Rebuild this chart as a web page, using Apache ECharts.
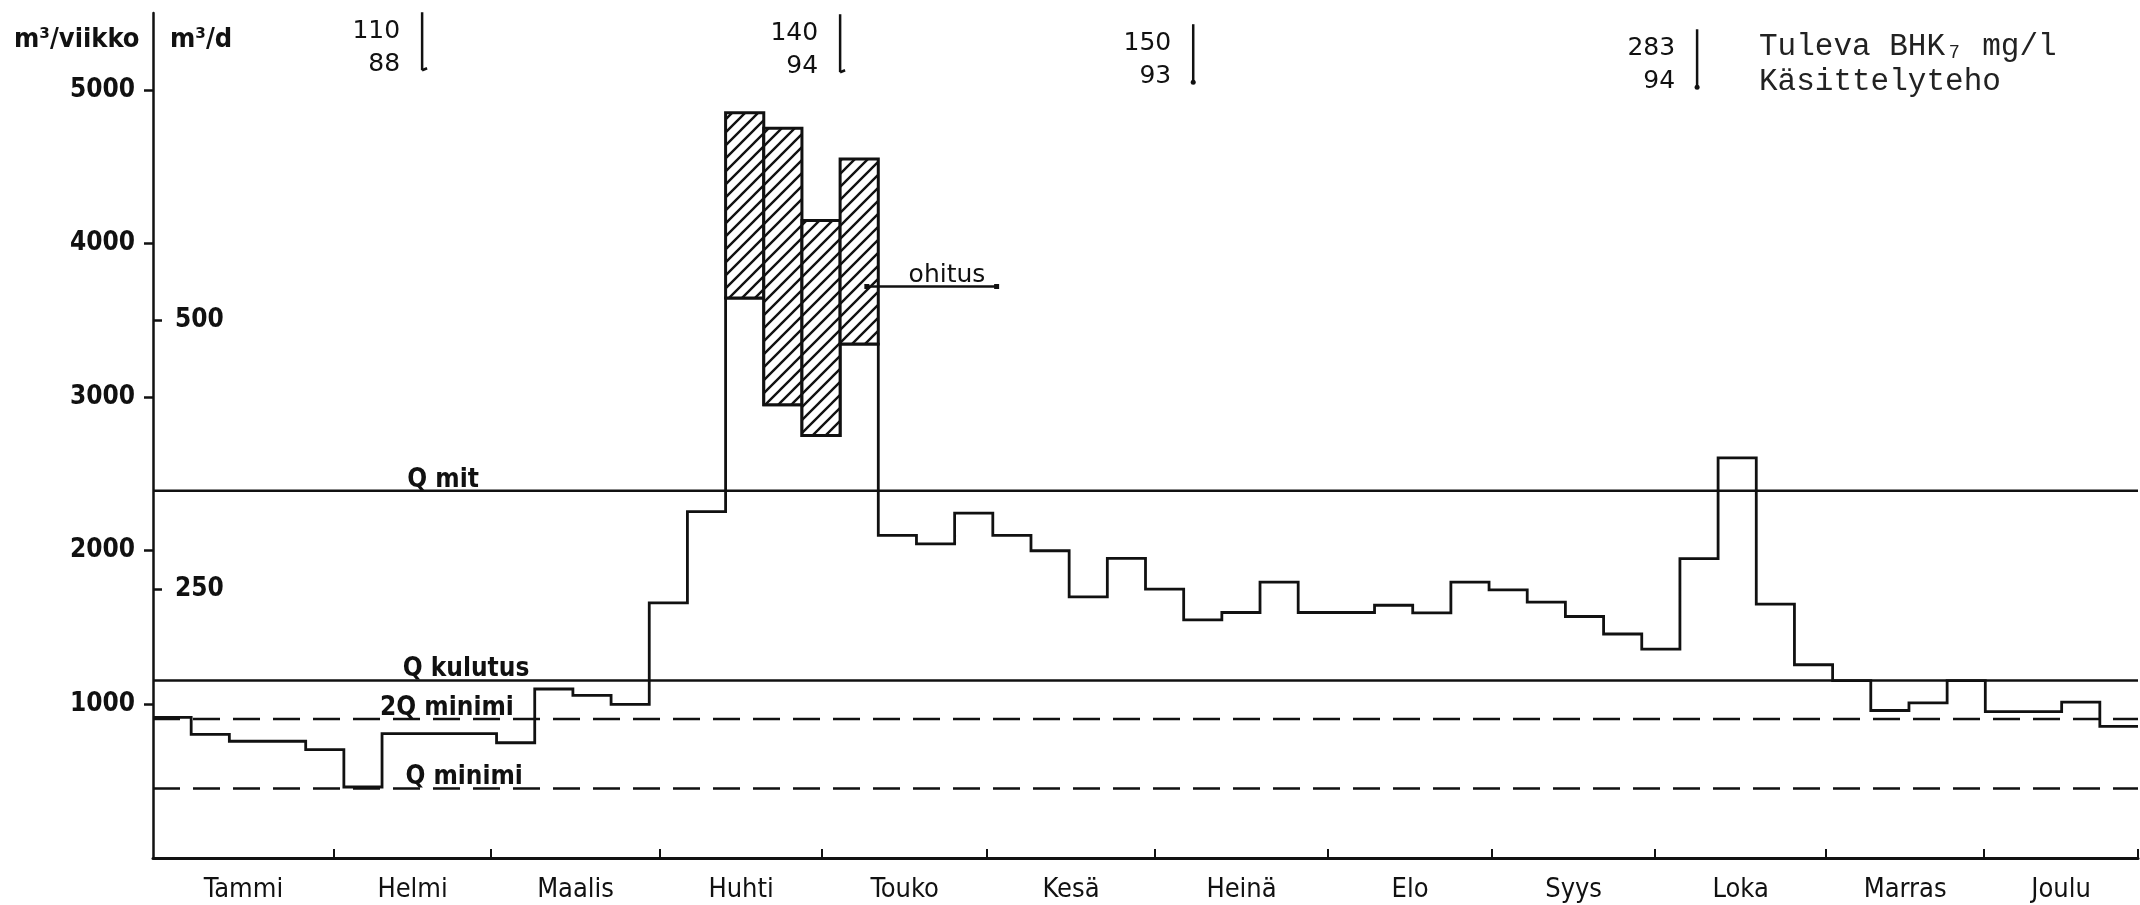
<!DOCTYPE html>
<html>
<head>
<meta charset="utf-8">
<script src="https://cdn.jsdelivr.net/npm/echarts@6/dist/echarts.min.js"></script>
<style>
  html, body { margin: 0; padding: 0; background: #fff; }
  #chart { width: 2140px; height: 905px; }
</style>
</head>
<body>
<div id="chart"></div>
<script>
// Weekly flow at the plant (m3/viikko), one step per week of the year
const months = ['Tammi', 'Helmi', 'Maalis', 'Huhti', 'Touko', 'Kesä', 'Heinä', 'Elo', 'Syys', 'Loka', 'Marras', 'Joulu'];
// month boundaries expressed in weeks from the start of the year
const monthEdges = [0, 4.74, 8.86, 13.28, 17.53, 21.85, 26.25, 30.78, 35.08, 39.35, 43.83, 47.97, 52];

// treated flow per week
const weeklyFlow = [
  915, 805, 760, 760, 705, 462, 810, 810, 810, 750, 1100, 1058, 1000,
  1660, 2255, 3645, 2950, 2750, 3345,
  2100, 2045, 2245, 2100, 2000, 1700, 1950, 1750, 1550, 1598, 1795, 1598, 1598,
  1645, 1595, 1795, 1745, 1665, 1572, 1458, 1360, 1948, 2605, 1652, 1258,
  1155, 960, 1010, 1155, 953, 953, 1014, 857
];

// weeks with bypass (ohitus): total inflow on top of the treated flow
const bypassWeeks = [15, 16, 17, 18];
const bypassTotal = [4850, 4750, 4150, 4550];

// design flows
const refNames = ['Q mit', 'Q kulutus', '2Q minimi', 'Q minimi'];
const refValues = [2390, 1155, 905, 452];
const refDashed = [false, false, true, true];

// axis ticks
const weekTicks = [1000, 2000, 3000, 4000, 5000];
const dayTicks = [250, 500];

// incoming BOD7 (mg/l) and treatment efficiency (%) per sampling
const bhkIn = [110, 140, 150, 283];
const efficiency = [88, 94, 93, 94];

// ---- layout helpers (positions in chart units) ----
const refLabelAt = [7.6, 8.2, 7.7, 8.15];
const bhkAt = [[7.05, 5505], [18.0, 5492], [27.25, 5427], [40.45, 5394]];
const bhkHook = ['hook', 'hook', 'dot', 'dot'];

const STENCIL = "'DejaVu Sans Condensed', 'DejaVu Sans', sans-serif";
const THIN = "'DejaVu Sans', sans-serif";
const INK = '#111';

// diagonal hatch used for the bypass boxes
function hatchPattern() {
  const s = 13;
  const c = document.createElement('canvas');
  c.width = s; c.height = s;
  const g = c.getContext('2d');
  g.fillStyle = '#fff';
  g.fillRect(0, 0, s, s);
  g.strokeStyle = INK;
  g.lineWidth = 2.4;
  g.beginPath();
  g.moveTo(-2, s + 2); g.lineTo(s + 2, -2);
  g.moveTo(-2, 2); g.lineTo(2, -2);
  g.moveTo(s - 2, s + 2); g.lineTo(s + 2, s - 2);
  g.stroke();
  return { type: 'pattern', image: c, repeat: 'repeat' };
}
const hatch = hatchPattern();

const monthMids = months.map((m, i) => (monthEdges[i] + monthEdges[i + 1]) / 2);

const stepData = weeklyFlow.map((v, i) => [i, v]);
stepData.push([weeklyFlow.length, weeklyFlow[weeklyFlow.length - 1]]);

const bypassData = bypassWeeks.map((w, i) => [w, weeklyFlow[w], bypassTotal[i]]);

const refSeries = refValues.map((v, i) => ({
  type: 'line',
  data: [[0, v], [52, v]],
  symbol: 'none',
  silent: true,
  z: 2,
  lineStyle: { color: INK, width: 2.5, type: refDashed[i] ? [27, 13] : 'solid' }
}));

const plainNumber = v => String(Math.round(v));

const chart = echarts.init(document.getElementById('chart'), null, { renderer: 'canvas' });

chart.setOption({
  animation: false,
  backgroundColor: '#fff',
  grid: { left: 153, right: 2, top: 13, bottom: 47, containLabel: false },
  xAxis: {
    type: 'value',
    min: 0,
    max: 52,
    axisLine: { show: true, onZero: false, lineStyle: { color: INK, width: 3 } },
    axisTick: {
      show: true, inside: true, length: 9,
      customValues: monthEdges.slice(1),
      lineStyle: { color: INK, width: 2 }
    },
    axisLabel: {
      customValues: monthMids,
      margin: 18,
      color: INK,
      fontFamily: STENCIL,
      fontSize: 27,
      formatter: v => {
        const k = monthMids.findIndex(m => Math.abs(m - v) < 1e-6);
        return k >= 0 ? months[k] : '';
      }
    },
    splitLine: { show: false }
  },
  yAxis: [
    {
      type: 'value',
      min: 0,
      max: 5500,
      position: 'left',
      axisLine: { show: true, onZero: false, lineStyle: { color: INK, width: 2.5 } },
      axisTick: { show: true, length: 9, customValues: weekTicks, lineStyle: { color: INK, width: 2.5 } },
      axisLabel: {
        customValues: weekTicks, margin: 18, color: INK, formatter: plainNumber,
        fontFamily: STENCIL, fontWeight: 'bold', fontSize: 26
      },
      splitLine: { show: false }
    },
    {
      type: 'value',
      min: 0,
      max: 5500 / 7,
      position: 'left',
      offset: 0,
      axisLine: { show: false },
      axisTick: { show: true, inside: true, length: 9, customValues: dayTicks, lineStyle: { color: INK, width: 2.5 } },
      axisLabel: {
        inside: true, customValues: dayTicks, margin: 22, color: INK, formatter: plainNumber,
        fontFamily: STENCIL, fontWeight: 'bold', fontSize: 26
      },
      splitLine: { show: false }
    }
  ],
  graphic: [
    { type: 'text', x: 14, y: 40, style: { text: 'm³/viikko', fill: INK, font: 'bold 27px ' + STENCIL, verticalAlign: 'middle' } },
    { type: 'text', x: 170, y: 40, style: { text: 'm³/d', fill: INK, font: 'bold 27px ' + STENCIL, verticalAlign: 'middle' } },
    { type: 'text', x: 1759, y: 47, style: { text: 'Tuleva BHK₇ mg/l', fill: '#222', font: '31px "Liberation Mono", "DejaVu Sans Mono", monospace', verticalAlign: 'middle' } },
    { type: 'text', x: 1759, y: 82, style: { text: 'Käsittelyteho', fill: '#222', font: '31px "Liberation Mono", "DejaVu Sans Mono", monospace', verticalAlign: 'middle' } }
  ],
  series: [
    ...refSeries,
    {
      // treated weekly flow as a step line
      type: 'line',
      step: 'end',
      data: stepData,
      symbol: 'none',
      z: 4,
      lineStyle: { color: INK, width: 2.8, join: 'miter' }
    },
    {
      // bypassed volume drawn as hatched boxes on top of the treated flow
      type: 'custom',
      data: bypassData,
      z: 5,
      renderItem: (params, api) => {
        const w = api.value(0), lo = api.value(1), hi = api.value(2);
        const a = api.coord([w, hi]);
        const b = api.coord([w + 1, lo]);
        return {
          type: 'rect',
          shape: { x: a[0], y: a[1], width: b[0] - a[0], height: b[1] - a[1] },
          style: { fill: hatch, stroke: INK, lineWidth: 3 }
        };
      }
    },
    {
      // pointer to the bypass boxes
      type: 'line',
      data: [[18.7, 3720], [22.1, 3720]],
      symbol: ['circle', 'none'],
      symbolSize: 5,
      itemStyle: { color: INK },
      lineStyle: { color: INK, width: 2.5 },
      z: 6
    },
    {
      // labels placed in chart units: 'ohitus' and the design flow names
      type: 'custom',
      clip: false,
      z: 6,
      data: [['ohitus', 20.8, 3720, 0]].concat(refNames.map((n, i) => [n, refLabelAt[i], refValues[i], 1])),
      renderItem: (params, api) => {
        const p = api.coord([api.value(1), api.value(2)]);
        const bold = api.value(3) === 1;
        return {
          type: 'text',
          x: p[0],
          y: p[1] + 2,
          style: {
            text: String(api.value(0)),
            fill: INK,
            fontFamily: bold ? STENCIL : THIN,
            fontWeight: bold ? 'bold' : 'normal',
            fontSize: bold ? 26 : 25,
            align: 'center',
            verticalAlign: 'bottom'
          }
        };
      },
      dimensions: ['name', 'x', 'y', 'kind'],
      encode: { x: 1, y: 2 }
    },
    {
      // BOD7 and treatment efficiency readings along the top
      type: 'custom',
      clip: false,
      z: 6,
      data: bhkAt.map((p, i) => [p[0], p[1], bhkIn[i], efficiency[i], i]),
      renderItem: (params, api) => {
        const p = api.coord([api.value(0), api.value(1)]);
        const i = api.value(4);
        const len = 58;
        const kids = [
          { type: 'line', shape: { x1: p[0], y1: p[1], x2: p[0], y2: p[1] + len }, style: { stroke: INK, lineWidth: 2.5 } },
          { type: 'text', x: p[0] - 22, y: p[1] + 19, style: { text: String(api.value(2)), fill: INK, fontFamily: THIN, fontSize: 25, align: 'right', verticalAlign: 'middle' } },
          { type: 'text', x: p[0] - 22, y: p[1] + 52, style: { text: String(api.value(3)), fill: INK, fontFamily: THIN, fontSize: 25, align: 'right', verticalAlign: 'middle' } }
        ];
        if (bhkHook[i] === 'hook') {
          kids.push({ type: 'line', shape: { x1: p[0], y1: p[1] + len, x2: p[0] + 5, y2: p[1] + len - 2 }, style: { stroke: INK, lineWidth: 2.5 } });
        } else {
          kids.push({ type: 'circle', shape: { cx: p[0], cy: p[1] + len, r: 2.5 }, style: { fill: INK } });
        }
        return { type: 'group', children: kids };
      }
    }
  ]
});
</script>
</body>
</html>
